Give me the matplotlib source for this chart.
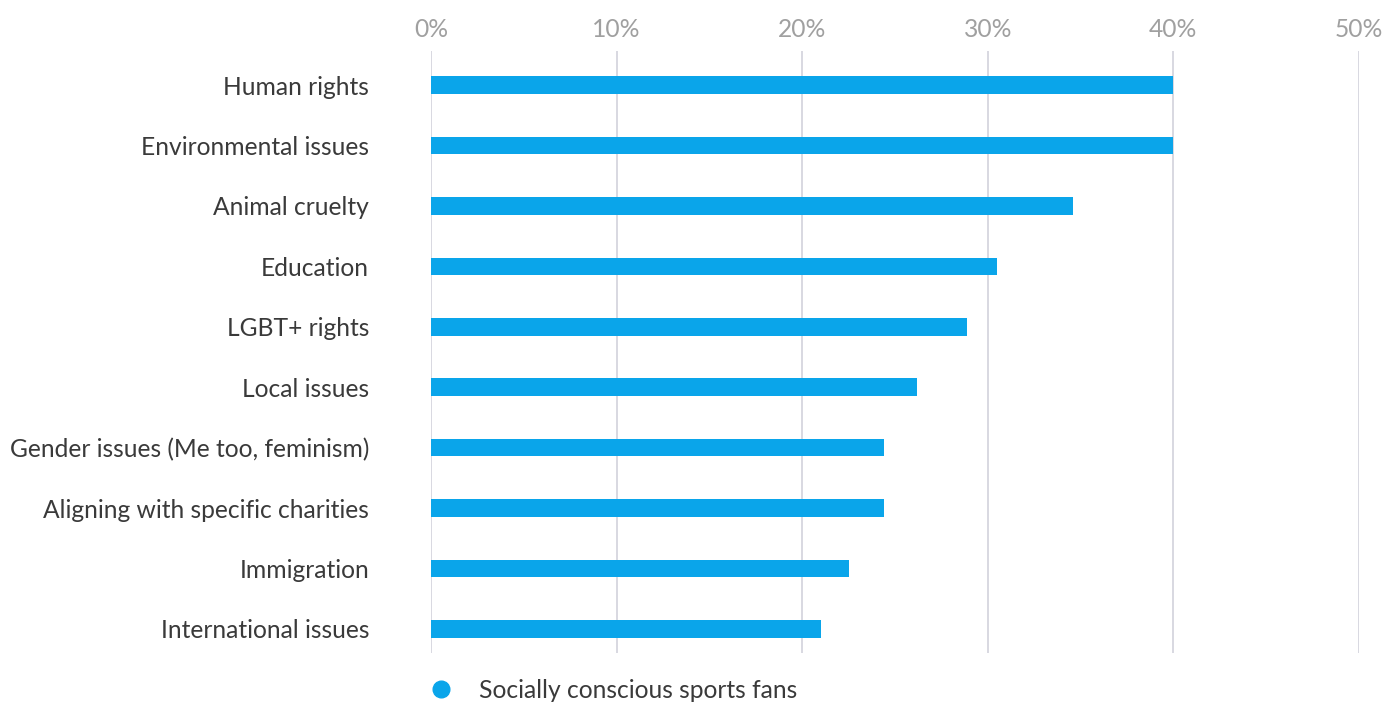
import numpy as np
import matplotlib.pyplot as plt
from matplotlib.lines import Line2D

plt.rcParams['font.family'] = ['Lato', 'DejaVu Sans']

categories = ['Human rights', 'Environmental issues', 'Animal cruelty', 'Education',
              'LGBT+ rights', 'Local issues', 'Gender issues (Me too, feminism)',
              'Aligning with specific charities', 'Immigration', 'International issues']
values = [40.0, 40.0, 34.6, 30.5, 28.9, 26.2, 24.4, 24.4, 22.5, 21.0]
series_name = 'Socially conscious sports fans'
xticks = [0, 10, 20, 30, 40, 50]

bar_color = '#0aa5ea'
fs = 17.7

fig = plt.figure(figsize=(13.86, 7.02), dpi=100)
ax = fig.add_axes([431 / 1386, 1 - 653 / 702, (1359 - 431) / 1386, (653 - 51) / 702])

y = np.arange(len(categories))
ax.barh(y, values, height=0.29, color=bar_color, zorder=3)

ax.set_xlim(0, 50)
ax.set_ylim(len(categories) - 1 + 24 / 60.44, -34 / 60.44)

ax.set_xticks(xticks)
ax.set_xticklabels([f'{t}%' for t in xticks], fontsize=fs, color='#a0a0a0')
ax.xaxis.tick_top()
ax.tick_params(axis='x', length=0, pad=7)

ax.set_yticks(y)
ax.set_yticklabels(categories, fontsize=fs, color='#3a3a3a')
ax.tick_params(axis='y', length=0, pad=44.6)

ax.grid(axis='x', color='#d5d6de', linewidth=1.3, zorder=0)
for s in ax.spines.values():
    s.set_visible(False)

handle = Line2D([], [], marker='o', linestyle='none', markersize=12,
                markerfacecolor=bar_color, markeredgecolor=bar_color)
fig.legend([handle], [series_name], loc='center left',
           bbox_to_anchor=(420 / 1386, 1 - 690 / 702), frameon=False,
           prop={'size': fs}, labelcolor='#3a3a3a', handlelength=0.9,
           handletextpad=1.1, borderaxespad=0)

fig.savefig('out.png', dpi=100)
